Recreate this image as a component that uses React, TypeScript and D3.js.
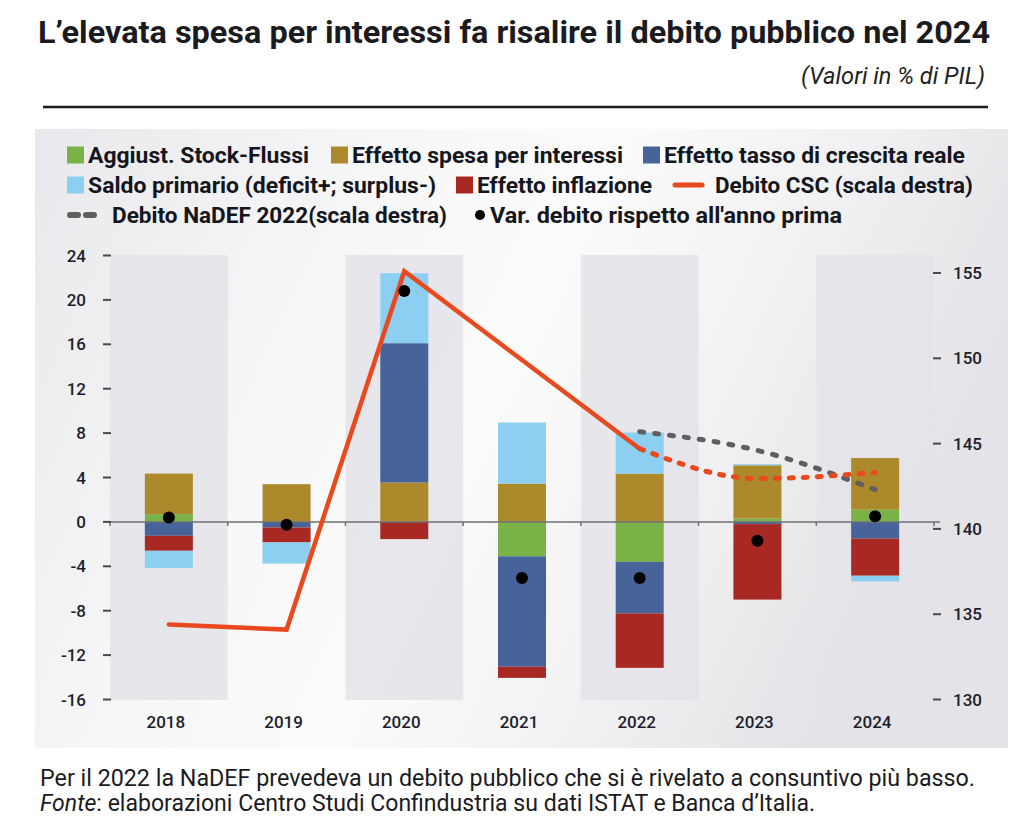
import React from "react";
import * as d3 from "d3";

const years = ["2018", "2019", "2020", "2021", "2022", "2023", "2024"];
const stockFlussi = [0.7, 0, 0, -3.1, -3.6, 0.3, 1.1];
const spesaInteressi = [3.65, 3.4, 3.55, 3.45, 4.35, 4.8, 4.65];
const crescitaReale = [-1.25, -0.5, 12.55, -9.95, -4.65, -0.2, -1.5];
const inflazione = [-1.35, -1.35, -1.55, -1.0, -4.9, -6.8, -3.35];
const saldoPrimario = [-1.55, -1.9, 6.3, 5.5, 3.7, 0.1, -0.5];
const varDebito = [0.4, -0.25, 20.8, -5.05, -5.05, -1.7, 0.5];
const cscYears = ["2018", "2019", "2020", "2021", "2022"];
const debitoCSC = [134.4, 134.1, 155.1, 149.9, 144.7];
const projYears = ["2022", "2023", "2024"];
const debitoCSCproj = [144.7, 142.95, 143.3];
const debitoNaDEF = [145.7, 144.6, 142.3];
const leftTicks = [24, 20, 16, 12, 8, 4, 0, -4, -8, -12, -16];
const rightTicks = [155, 150, 145, 140, 135, 130];

const seriesKeys = ["stock", "interessi", "crescita", "inflazione", "saldo"];
const seriesColors: Record<string, string> = {
  stock: "#79b347",
  interessi: "#ac8a2b",
  crescita: "#46639a",
  inflazione: "#a82824",
  saldo: "#8dcff0",
};

const ORANGE = "#e9491f";
const GRAY = "#5f5f5f";
const FONT = "Roboto, 'Noto Sans', sans-serif";

export default function App() {
  const x = d3.scaleBand<string>().domain(years).range([110, 934]).padding(0);
  const y = d3.scaleLinear().domain([-16, 24]).range([699.5, 255.5]);
  const yR = d3.scaleLinear().domain([130, 155]).range([699.5, 273]);
  const barW = 48;
  const cx = (yr: string) => (x(yr) as number) + x.bandwidth() / 2;

  const table = years.map((yr, i) => ({
    year: yr,
    stock: stockFlussi[i],
    interessi: spesaInteressi[i],
    crescita: crescitaReale[i],
    inflazione: inflazione[i],
    saldo: saldoPrimario[i],
  }));
  const stacked = d3
    .stack<any>()
    .keys(seriesKeys)
    .offset(d3.stackOffsetDiverging)(table);

  const lineSolid = d3
    .line<number>()
    .x((_, i) => cx(cscYears[i]))
    .y((d) => yR(d));
  const lineProj = d3
    .line<number>()
    .x((_, i) => cx(projYears[i]))
    .y((d) => yR(d))
    .curve(d3.curveMonotoneX);

  const y0 = y(0);

  const legendRows = [
    { y: 155, items: [
      { type: "sq", color: seriesColors.stock, x: 67, tx: 88, w: 221, label: "Aggiust. Stock-Flussi" },
      { type: "sq", color: seriesColors.interessi, x: 331, tx: 352, w: 271, label: "Effetto spesa per interessi" },
      { type: "sq", color: seriesColors.crescita, x: 643, tx: 664, w: 301, label: "Effetto tasso di crescita reale" },
    ]},
    { y: 185, items: [
      { type: "sq", color: seriesColors.saldo, x: 67, tx: 88, w: 348, label: "Saldo primario (deficit+; surplus-)" },
      { type: "sq", color: seriesColors.inflazione, x: 456, tx: 477, w: 175, label: "Effetto inflazione" },
      { type: "line", color: ORANGE, x: 673, tx: 715, w: 258, label: "Debito CSC (scala destra)" },
    ]},
    { y: 215, items: [
      { type: "dash", color: GRAY, x: 67, tx: 112, w: 335, label: "Debito NaDEF 2022(scala destra)" },
      { type: "dot", color: "#000", x: 480, tx: 490, w: 352, label: "Var. debito rispetto all'anno prima" },
    ]},
  ];

  return (
    <svg
      width={1024}
      height={830}
      style={{ position: "absolute", left: 0, top: 0, background: "#fff" }}
      fontFamily={FONT}
    >
      <defs>
        <linearGradient id="panelGrad" x1="0" y1="0" x2="1" y2="0.3">
          <stop offset="0" stopColor="#e9e9ed" />
          <stop offset="0.35" stopColor="#f7f7f8" />
          <stop offset="0.55" stopColor="#fbfbfb" />
          <stop offset="0.8" stopColor="#f0f0f2" />
          <stop offset="1" stopColor="#e4e4e8" />
        </linearGradient>
      </defs>

      {/* Title */}
      <text x={38} y={43} fontSize={32} fontWeight={700} fill="#1b1b1f" textLength={952} lengthAdjust="spacingAndGlyphs">
        L’elevata spesa per interessi fa risalire il debito pubblico nel 2024
      </text>
      <text x={801} y={84} fontSize={23} fontStyle="italic" fill="#222" textLength={184} lengthAdjust="spacingAndGlyphs">
        (Valori in % di PIL)
      </text>
      <line x1={43} x2={988} y1={107} y2={107} stroke="#1b1b1f" strokeWidth={2.5} />

      {/* Panel */}
      <rect x={35} y={129} width={973} height={619} fill="url(#panelGrad)" />

      {/* Legend */}
      {legendRows.map((row, ri) => (
        <g key={ri}>
          {row.items.map((it, ii) => (
            <g key={ii}>
              {it.type === "sq" && (
                <rect x={it.x} y={row.y - 8.5} width={17} height={17} fill={it.color} />
              )}
              {it.type === "line" && (
                <line x1={it.x + 2} x2={it.x + 29} y1={row.y} y2={row.y} stroke={it.color} strokeWidth={5} strokeLinecap="round" />
              )}
              {it.type === "dash" && (
                <line x1={it.x + 3} x2={it.x + 29} y1={row.y} y2={row.y} stroke={it.color} strokeWidth={6} strokeLinecap="round" strokeDasharray="8 8" />
              )}
              {it.type === "dot" && <circle cx={it.x} cy={row.y} r={5} fill={it.color} />}
              <text x={it.tx} y={row.y + 7.5} fontSize={22} fontWeight={700} fill="#15151c" textLength={it.w} lengthAdjust="spacingAndGlyphs">
                {it.label}
              </text>
            </g>
          ))}
        </g>
      ))}

      {/* Alternate gray bands */}
      {years.map((yr, i) =>
        i % 2 === 0 ? (
          <rect key={yr} x={x(yr)} y={255} width={x.bandwidth()} height={445} fill="#e3e3e9" opacity={0.85} />
        ) : null
      )}

      {/* Stacked bars */}
      {stacked.map((s) => (
        <g key={s.key} fill={seriesColors[s.key]}>
          {s.map((d, i) => {
            const top = y(Math.max(d[0], d[1]));
            const bot = y(Math.min(d[0], d[1]));
            if (bot - top < 0.01) return null;
            return <rect key={i} x={cx(years[i]) - barW / 2} y={top} width={barW} height={bot - top} />;
          })}
        </g>
      ))}

      {/* Zero axis */}
      <line x1={110} x2={940} y1={y0} y2={y0} stroke="#6f6f73" strokeWidth={1.5} />
      {years.concat(["end"]).map((yr, i) => {
        const xx = 110 + i * x.bandwidth();
        return <line key={i} x1={xx} x2={xx} y1={y0} y2={y0 + 4} stroke="#6f6f73" strokeWidth={1.5} />;
      })}

      {/* Left axis */}
      {leftTicks.map((t) => (
        <g key={t}>
          <line x1={103} x2={111} y1={y(t)} y2={y(t)} stroke="#4a4a4a" strokeWidth={2} />
          <text x={86} y={y(t) + 6} textAnchor="end" fontSize={17} fontWeight={500} fill="#1d1d2b">
            {t}
          </text>
        </g>
      ))}

      {/* Right axis */}
      {rightTicks.map((t) => (
        <g key={t}>
          <line x1={933} x2={941} y1={yR(t)} y2={yR(t)} stroke="#4a4a4a" strokeWidth={2} />
          <text x={953} y={yR(t) + 6} fontSize={17} fontWeight={500} fill="#1d1d2b">
            {t}
          </text>
        </g>
      ))}

      {/* X labels */}
      {years.map((yr) => (
        <text key={yr} x={cx(yr) - 3} y={728} textAnchor="middle" fontSize={17} fontWeight={500} fill="#1d1d2b">
          {yr}
        </text>
      ))}

      {/* Lines */}
      <path d={lineProj(debitoNaDEF) || ""} fill="none" stroke={GRAY} strokeWidth={5} strokeLinecap="round" strokeDasharray="4 11" />
      <path d={lineProj(debitoCSCproj) || ""} fill="none" stroke={ORANGE} strokeWidth={5} strokeLinecap="round" strokeDasharray="4 10" />
      <path d={lineSolid(debitoCSC) || ""} fill="none" stroke={ORANGE} strokeWidth={4.5} strokeLinecap="round" strokeLinejoin="miter" />

      {/* Dots */}
      {varDebito.map((v, i) => (
        <circle key={i} cx={cx(years[i])} cy={y(v)} r={6} fill="#000" />
      ))}

      {/* Footnote */}
      <text x={40} y={786} fontSize={23} fill="#1b1b1f" textLength={935} lengthAdjust="spacingAndGlyphs">
        Per il 2022 la NaDEF prevedeva un debito pubblico che si è rivelato a consuntivo più basso.
      </text>
      <text x={40} y={811} fontSize={23} fill="#1b1b1f" textLength={775} lengthAdjust="spacingAndGlyphs">
        <tspan fontStyle="italic">Fonte</tspan>: elaborazioni Centro Studi Confindustria su dati ISTAT e Banca d’Italia.
      </text>
    </svg>
  );
}
